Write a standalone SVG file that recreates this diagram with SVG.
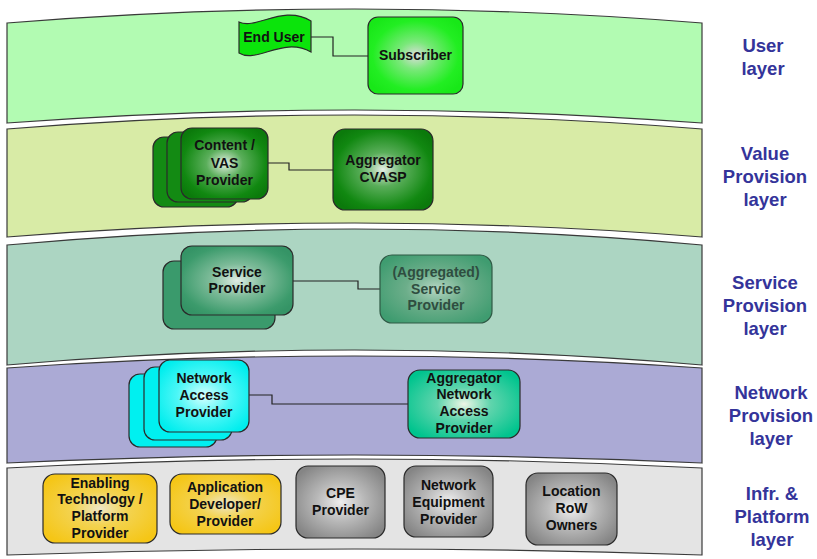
<svg xmlns="http://www.w3.org/2000/svg" width="817" height="559" viewBox="0 0 817 559">
  <style>
    .band { stroke: #3a3a3a; stroke-width: 1.2; }
    .node { stroke: #2a2a2a; stroke-width: 1.2; }
    .lbl { font-family: "Liberation Sans", Arial, sans-serif; font-weight: bold; font-size: 14px; fill: #111; text-anchor: middle; }
    .layer { font-family: "Liberation Sans", Arial, sans-serif; font-weight: bold; font-size: 18.5px; fill: #34349a; text-anchor: middle; }
    .conn { fill: none; stroke: #222; stroke-width: 1.2; }
  </style>
  <defs>
    <radialGradient id="gSub" cx="0.5" cy="0.5" r="0.6">
      <stop offset="0" stop-color="#dcdcdc"/>
      <stop offset="0.3" stop-color="#7ae87a"/>
      <stop offset="0.75" stop-color="#22ee22"/>
      <stop offset="1" stop-color="#18e818"/>
    </radialGradient>
    <radialGradient id="gVal" cx="0.5" cy="0.5" r="0.6">
      <stop offset="0" stop-color="#e6efe6"/>
      <stop offset="0.35" stop-color="#5aae5a"/>
      <stop offset="0.8" stop-color="#118811"/>
      <stop offset="1" stop-color="#0b7a0b"/>
    </radialGradient>
    <radialGradient id="gSvc" cx="0.5" cy="0.5" r="0.6">
      <stop offset="0" stop-color="#dfece4"/>
      <stop offset="0.4" stop-color="#7dbb99"/>
      <stop offset="0.85" stop-color="#3c9b6c"/>
      <stop offset="1" stop-color="#359466"/>
    </radialGradient>
    <radialGradient id="gSvcA" cx="0.5" cy="0.5" r="0.6">
      <stop offset="0" stop-color="#b4d6c3"/>
      <stop offset="0.45" stop-color="#6cae8a"/>
      <stop offset="1" stop-color="#3f9c70"/>
    </radialGradient>
    <radialGradient id="gNet" cx="0.5" cy="0.5" r="0.6">
      <stop offset="0" stop-color="#d8ffff"/>
      <stop offset="0.5" stop-color="#4cf6f6"/>
      <stop offset="1" stop-color="#00eeee"/>
    </radialGradient>
    <radialGradient id="gAgg" cx="0.5" cy="0.5" r="0.6">
      <stop offset="0" stop-color="#eef6e6"/>
      <stop offset="0.4" stop-color="#5fd4ac"/>
      <stop offset="1" stop-color="#00c48e"/>
    </radialGradient>
    <radialGradient id="gYel" cx="0.5" cy="0.5" r="0.6">
      <stop offset="0" stop-color="#eee7c8"/>
      <stop offset="0.4" stop-color="#f3d351"/>
      <stop offset="1" stop-color="#f5c616"/>
    </radialGradient>
    <radialGradient id="gGry" cx="0.5" cy="0.5" r="0.6">
      <stop offset="0" stop-color="#eeeeee"/>
      <stop offset="0.45" stop-color="#b8b8b8"/>
      <stop offset="1" stop-color="#858585"/>
    </radialGradient>
  </defs>

  <rect width="817" height="559" fill="#ffffff"/>

  <!-- curved layer bands -->
  <g id="bands">
    <path class="band" fill="#b2fbb2" d="M7,23 Q354.5,-5 702,23 L702,123 Q354.5,97 7,123 Z"/>
    <path class="band" fill="#d8eba6" d="M7,129 Q354.5,101 702,129 L702,237 Q354.5,209 7,237 Z"/>
    <path class="band" fill="#acd5c2" d="M7,245 Q354.5,213 702,245 L702,365 Q354.5,335 7,365 Z"/>
    <path class="band" fill="#abaad5" d="M7,368 Q354.5,344 702,368 L702,463 Q354.5,447 7,463 Z"/>
    <path class="band" fill="#e4e4e4" d="M7,468 Q354.5,450 702,468 L702,555 Q354.5,543 7,555 Z"/>
  </g>

  <!-- layer captions -->
  <g id="layer-labels">
    <text class="layer" x="763" y="52">User</text>
    <text class="layer" x="763" y="75">layer</text>
    <text class="layer" x="765" y="160">Value</text>
    <text class="layer" x="765" y="183">Provision</text>
    <text class="layer" x="765" y="206">layer</text>
    <text class="layer" x="765" y="289">Service</text>
    <text class="layer" x="765" y="312">Provision</text>
    <text class="layer" x="765" y="335">layer</text>
    <text class="layer" x="771" y="399">Network</text>
    <text class="layer" x="771" y="422">Provision</text>
    <text class="layer" x="771" y="445">layer</text>
    <text class="layer" x="772" y="500">Infr. &amp;</text>
    <text class="layer" x="772" y="523">Platform</text>
    <text class="layer" x="772" y="546">layer</text>
  </g>

  <!-- connectors -->
  <g id="connectors">
    <path class="conn" d="M311,37 H333 V56 H368"/>
    <path class="conn" d="M268,163 H289 V170 H333"/>
    <path class="conn" d="M293,281 H358 V289 H380"/>
    <path class="conn" d="M249,395 H272 V404 H408"/>
  </g>

  <!-- user layer -->
  <g id="end-user">
    <path class="node" fill="#0be40b" d="M239,22 C257,30 283,4 311,21 L311,52 C283,36 257,64 239,53 Z"/>
    <text class="lbl" x="274" y="41.5">End User</text>
  </g>
  <g id="subscriber">
    <rect class="node" x="368" y="17" width="95" height="77" rx="10" fill="url(#gSub)"/>
    <text class="lbl" x="415.5" y="60">Subscriber</text>
  </g>

  <!-- value provision layer -->
  <g id="content-vas-provider">
    <rect class="node" x="153" y="137" width="85" height="70" rx="11" fill="#138a13"/>
    <rect class="node" x="167" y="132" width="86" height="70" rx="11" fill="#138a13"/>
    <rect class="node" x="181" y="128" width="87" height="71" rx="11" fill="url(#gVal)"/>
    <text class="lbl" x="224.5" y="150">Content /</text>
    <text class="lbl" x="224.5" y="168">VAS</text>
    <text class="lbl" x="224.5" y="185">Provider</text>
  </g>
  <g id="aggregator-cvasp">
    <rect class="node" x="333" y="129" width="100" height="81" rx="12" fill="url(#gVal)"/>
    <text class="lbl" x="383" y="165">Aggregator</text>
    <text class="lbl" x="383" y="182">CVASP</text>
  </g>

  <!-- service provision layer -->
  <g id="service-provider">
    <rect class="node" x="163" y="261" width="112" height="68" rx="11" fill="#3a9a6c"/>
    <rect class="node" x="181" y="246" width="112" height="69" rx="11" fill="url(#gSvc)"/>
    <text class="lbl" x="237" y="277">Service</text>
    <text class="lbl" x="237" y="293">Provider</text>
  </g>
  <g id="aggregated-service-provider">
    <rect x="380" y="255" width="112" height="68" rx="12" fill="url(#gSvcA)" stroke="#2f5a45" stroke-width="1.2"/>
    <text class="lbl" x="436" y="277" style="fill:#2f4d40">(Aggregated)</text>
    <text class="lbl" x="436" y="294" style="fill:#2f4d40">Service</text>
    <text class="lbl" x="436" y="310" style="fill:#2f4d40">Provider</text>
  </g>

  <!-- network provision layer -->
  <g id="network-access-provider">
    <rect class="node" x="129" y="374" width="88" height="73" rx="11" fill="#00f0f0"/>
    <rect class="node" x="144" y="367" width="88" height="73" rx="11" fill="#00f0f0"/>
    <rect class="node" x="159" y="360" width="90" height="72" rx="11" fill="url(#gNet)"/>
    <text class="lbl" x="204" y="383">Network</text>
    <text class="lbl" x="204" y="400">Access</text>
    <text class="lbl" x="204" y="417">Provider</text>
  </g>
  <g id="aggregator-network-access-provider">
    <rect class="node" x="408" y="370" width="112" height="68" rx="12" fill="url(#gAgg)"/>
    <text class="lbl" x="464" y="383">Aggregator</text>
    <text class="lbl" x="464" y="399">Network</text>
    <text class="lbl" x="464" y="416">Access</text>
    <text class="lbl" x="464" y="433">Provider</text>
  </g>

  <!-- infrastructure & platform layer -->
  <g id="enabling-technology-provider">
    <rect class="node" x="43" y="474" width="114" height="69" rx="12" fill="url(#gYel)"/>
    <text class="lbl" x="100" y="488">Enabling</text>
    <text class="lbl" x="100" y="504">Technology /</text>
    <text class="lbl" x="100" y="521">Platform</text>
    <text class="lbl" x="100" y="538">Provider</text>
  </g>
  <g id="application-developer">
    <rect class="node" x="170" y="474" width="111" height="60" rx="12" fill="url(#gYel)"/>
    <text class="lbl" x="225" y="492">Application</text>
    <text class="lbl" x="225" y="509">Developer/</text>
    <text class="lbl" x="225" y="526">Provider</text>
  </g>
  <g id="cpe-provider">
    <rect class="node" x="296" y="466" width="89" height="72" rx="12" fill="url(#gGry)"/>
    <text class="lbl" x="340.5" y="498">CPE</text>
    <text class="lbl" x="340.5" y="515">Provider</text>
  </g>
  <g id="network-equipment-provider">
    <rect class="node" x="404" y="466" width="89" height="71" rx="12" fill="url(#gGry)"/>
    <text class="lbl" x="448.5" y="490">Network</text>
    <text class="lbl" x="448.5" y="507">Equipment</text>
    <text class="lbl" x="448.5" y="524">Provider</text>
  </g>
  <g id="location-row-owners">
    <rect class="node" x="526" y="473" width="91" height="72" rx="12" fill="url(#gGry)"/>
    <text class="lbl" x="571.5" y="496">Location</text>
    <text class="lbl" x="571.5" y="513">RoW</text>
    <text class="lbl" x="571.5" y="530">Owners</text>
  </g>
</svg>
